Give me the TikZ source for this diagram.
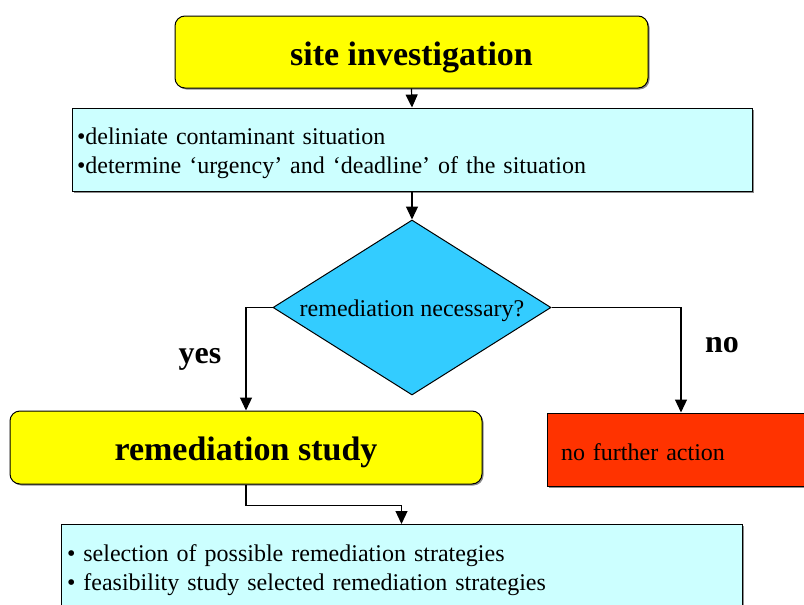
\documentclass[tikz,border=0pt]{standalone}
\usepackage{fontspec}
\setmainfont{Liberation Serif}
\usetikzlibrary{shapes.geometric,arrows.meta,shadows}
\definecolor{boxyellow}{HTML}{FFFF00}
\definecolor{boxcyan}{HTML}{CCFFFF}
\definecolor{diacyan}{HTML}{33CCFF}
\definecolor{boxred}{HTML}{FF3300}
\tikzset{
  shd/.style={drop shadow={shadow xshift=1.5pt,shadow yshift=-1.5pt,fill=black!45,opacity=1}},
  titlebox/.style={draw, line width=1pt, fill=boxyellow, rounded corners=10pt, shd,
    font=\fontsize{34}{40}\selectfont\bfseries, inner sep=0pt, text height=26pt, text depth=0pt},
  infobox/.style={draw, line width=1pt, fill=boxcyan, shd, align=left,
    font=\fontsize{24}{29}\selectfont, inner ysep=0pt},
  decision/.style={diamond, draw, line width=1pt, fill=diacyan, inner sep=0pt, shape aspect=1.59,
    minimum width=278pt, minimum height=175pt, font=\fontsize{24}{29}\selectfont,
    text height=18pt, text depth=0pt},
  stopbox/.style={draw, line width=1pt, fill=boxred, shd, align=left, inner ysep=0pt,
    font=\fontsize{24}{29}\selectfont, text height=22pt, text depth=0pt},
  answer/.style={font=\fontsize{32}{38}\selectfont\bfseries, inner sep=0pt},
  arr/.style={line width=1.2pt, -{Triangle[width=12pt,length=13pt]}}
}
\begin{document}
\begin{tikzpicture}[x=1pt,y=-1pt]
\useasboundingbox (0,0) rectangle (804,605);
\clip (0,0) rectangle (804,605);

\node[titlebox, minimum width=473pt, minimum height=72pt] (si) at (411.5,52) {site investigation};
\node[infobox, minimum width=680pt, minimum height=83pt, text width=670pt, inner xsep=5pt] (c1) at (412,149.5)
  {\rule{0pt}{25pt}\textbullet deliniate contaminant situation\\
   \textbullet determine ‘urgency’ and ‘deadline’ of the situation};
\node[decision] (dia) at (412,307.5) {remediation necessary?};
\node[titlebox, minimum width=472pt, minimum height=73pt] (rs) at (246,447.5) {remediation study};
\node[stopbox, minimum width=268pt, minimum height=73pt, text width=240pt, inner xsep=14pt] (nfa) at (681,449.5) {no further action};
\node[infobox, anchor=north, minimum width=681pt, minimum height=87pt, text width=669pt, inner xsep=6pt] (c2) at (401.5,524)
  {\rule{0pt}{21pt}\textbullet{} selection of possible remediation strategies\\
   \textbullet{} feasibility study selected remediation strategies};

\node[answer] (yes) at (200,359) {yes};
\node[answer] (no) at (722,345) {no};

\draw[arr] (si.south) -- (c1.north);
\draw[arr] (c1.south) -- (dia.north);
\draw[arr] (dia.west) -| (rs.north);
\draw[arr] (dia.east) -| (nfa.north);
\draw[arr] (rs.south) -- ++(0,21) -| (c2.north);
\end{tikzpicture}
\end{document}
